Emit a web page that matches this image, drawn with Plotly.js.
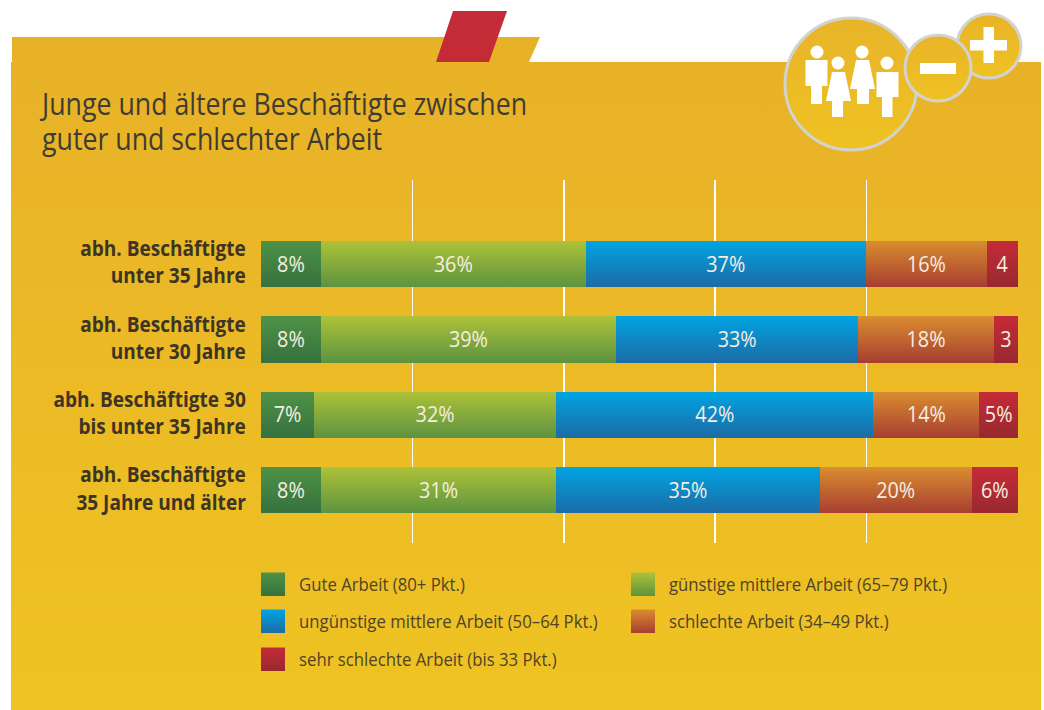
<!DOCTYPE html>
<html><head><meta charset="utf-8">
<script src="https://cdn.plot.ly/plotly-3.0.1.min.js"></script>
<style>html,body{margin:0;padding:0;background:#fff;overflow:hidden}</style></head>
<body><div id="chart" style="width:1044px;height:710px"></div>
<script>
const FONT = '"Open Sans",sans-serif';
const categories = ['abh. Beschäftigte<br>unter 35 Jahre','abh. Beschäftigte<br>unter 30 Jahre','abh. Beschäftigte 30<br>bis unter 35 Jahre','abh. Beschäftigte<br>35 Jahre und älter'];
const seriesNames = ['Gute Arbeit (80+ Pkt.)','günstige mittlere Arbeit (65–79 Pkt.)','ungünstige mittlere Arbeit (50–64 Pkt.)','schlechte Arbeit (34–49 Pkt.)','sehr schlechte Arbeit (bis 33 Pkt.)'];
const gute = [7.9,7.9,7.0,7.9];
const guenstig = [35.0,39.0,32.0,31.1];
const unguenstig = [37.0,32.0,41.9,34.8];
const schlecht = [16.0,17.9,14.0,20.1];
const sehrSchlecht = [4.09,3.19,5.09,6.09];
const guteLabels = ['8%','8%','7%','8%'];
const guenstigLabels = ['36%','39%','32%','31%'];
const unguenstigLabels = ['37%','33%','42%','35%'];
const schlechtLabels = ['16%','18%','14%','20%'];
const sehrSchlechtLabels = ['4','3','5%','6%'];
const gradients = {
  g0:['#4F9246','#36713F'], g1:['#AEC238','#5C9340'], g2:['#00A4E2','#1C6BA6'],
  g3:['#DA8D30','#A63E30'], g4:['#C52B38','#98292F'],
  bg:['#E8B228','#EFC323'], circ:['#E8B429','#EFC223']
};
const W=757,H=363,L=261,T=180;
const px=x=>(x-L)/W, py=y=>1-(y-T)/H;
const poly=(pts,fill,name)=>({type:'path',xref:'paper',yref:'paper',layer:'below',name:name||'',
  path:'M'+pts.map(p=>px(p[0])+','+py(p[1])).join('L')+'Z',fillcolor:fill,line:{width:0}});
const circle=(cx,cy,r,fill,name,lc)=>({type:'circle',xref:'paper',yref:'paper',layer:'below',name:name||'',
  x0:px(cx-r),x1:px(cx+r),y0:py(cy+r),y1:py(cy-r),fillcolor:fill,line:{width:lc?3:0,color:lc||'rgba(0,0,0,0)'}});
const rect=(x0,y0,x1,y1,fill,name)=>poly([[x0,y0],[x1,y0],[x1,y1],[x0,y1]],fill,name);
const WH='#ffffff', GR='#d2d2cf';
const shapes=[
  rect(11,62,1041,710,'#EBB925','bg'),
  poly([[12,37],[540,37],[529,62],[12,62]],'#E8B228'),
  poly([[453,11],[507,11],[489,62],[436,62]],'#C42B36'),
  circle(989,46,32,'#EBBA27','circ',GR),
  circle(851,84,66,'#EBBA27','circ',GR),
  circle(938,68,33,'#EBBA27','circ',GR),
  rect(970,40,1007,50.5,WH), rect(983.5,27,994,63,WH),
  rect(920,63,956,74,WH),
  circle(817,52,6.5,WH), rect(805.5,60,827.5,86,WH), rect(811,86,822,104,WH),
  circle(838,63,6.5,WH), poly([[832,72],[845,72],[851,101],[826,101]],WH), rect(832,101,843,117,WH),
  circle(862,52,6.5,WH), poly([[856,60],[869,60],[875,89],[850,89]],WH), rect(857,89,869,104,WH),
  circle(887,63,6.5,WH), rect(876.5,72,898.5,97,WH), rect(882,97,892.5,117,WH)
];
const legendPos=[[261,584],[631,584],[261,621],[631,621],[261,659]];
const annotations=[];
seriesNames.forEach((n,i)=>{
  const [x,y]=legendPos[i];
  shapes.push(rect(x,y-11.5,x+24,y+12,gradients['g'+i][0],'g'+i));
  annotations.push({xref:'paper',yref:'paper',x:px(x+36),y:py(y),text:n,showarrow:false,xanchor:'left',yanchor:'middle',
    font:{family:FONT,size:18,color:'#4F4427'}});
});
const vals=[gute,guenstig,unguenstig,schlecht,sehrSchlecht];
const labs=[guteLabels,guenstigLabels,unguenstigLabels,schlechtLabels,sehrSchlechtLabels];
const data=vals.map((v,i)=>({type:'bar',orientation:'h',name:seriesNames[i],y:categories,x:v,text:labs[i],
  textposition:'inside',insidetextanchor:'middle',textangle:0,constraintext:'none',cliponaxis:false,
  insidetextfont:{family:FONT,size:22,color:'#F6EEE2'},marker:{color:gradients['g'+i][0],line:{width:0}},hoverinfo:'skip'}));
const layout={
  width:1044,height:710,margin:{l:L,r:1044-L-W,t:T,b:710-T-H,pad:0},
  paper_bgcolor:'#ffffff',plot_bgcolor:'rgba(0,0,0,0)',barmode:'stack',bargap:0.383,showlegend:false,
  title:{text:'Junge und ältere Beschäftigte zwischen<br>guter und schlechter Arbeit',x:42/1044,xanchor:'left',xref:'container',
    y:1-111/710,yanchor:'middle',yref:'container',font:{family:FONT,size:31,color:'#3E3C33'}},
  xaxis:{range:[0,100],tickvals:[20,40,60,80],showticklabels:false,ticks:'',showgrid:true,gridcolor:'#ffffff',gridwidth:1.5,zeroline:false,showline:false},
  yaxis:{type:'category',categoryorder:'array',categoryarray:categories,range:[3.7,-1.114],showgrid:false,zeroline:false,showline:false,
    ticks:'outside',ticklen:10,tickcolor:'rgba(0,0,0,0)',tickfont:{family:FONT,size:21,color:'#3E3424',weight:700}},
  shapes,annotations
};
function squeeze(sel,f){
  document.querySelectorAll(sel).forEach(t=>{
    const lines=t.querySelectorAll('tspan.line');
    (lines.length?lines:[t]).forEach(el=>{
      const len=el.getComputedTextLength();
      if(len>0){el.setAttribute('textLength',(len*f).toFixed(1));el.setAttribute('lengthAdjust','spacingAndGlyphs');}
    });
  });
}
function nudge(sel,dy){
  document.querySelectorAll(sel).forEach(t=>{
    const lines=t.querySelectorAll('tspan.line');
    (lines.length?lines:[t]).forEach(el=>{
      el.setAttribute('y',parseFloat(el.getAttribute('y')||0)+dy);
    });
  });
}
const gd=document.getElementById('chart');
Plotly.newPlot(gd,data,layout,{staticPlot:true,displayModeBar:false}).then(()=>{
  const svg=gd.querySelector('svg.main-svg');
  const NS='http://www.w3.org/2000/svg';
  const defs=document.createElementNS(NS,'defs');
  Object.entries(gradients).forEach(([id,c])=>{
    const g=document.createElementNS(NS,'linearGradient');
    g.setAttribute('id','grad-'+id);g.setAttribute('x1','0');g.setAttribute('y1','0');g.setAttribute('x2','0');g.setAttribute('y2','1');
    c.forEach((col,k)=>{const s=document.createElementNS(NS,'stop');s.setAttribute('offset',k);s.setAttribute('stop-color',col);g.appendChild(s);});
    defs.appendChild(g);
  });
  svg.insertBefore(defs,svg.firstChild);
  gd.querySelectorAll('.shapelayer path').forEach(p=>{
    const sh=layout.shapes[+p.getAttribute('data-index')];
    if(sh&&gradients[sh.name]) p.style.fill='url(#grad-'+sh.name+')';
  });
  gd.querySelectorAll('.trace.bars').forEach((t,i)=>{
    t.querySelectorAll('.point path').forEach(p=>{p.style.fill='url(#grad-g'+i+')';});
  });
  // condensed look: the source uses a narrow face, none is installed
  squeeze('#chart .gtitle',0.862);
  squeeze('#chart .ytick text',0.907);
  squeeze('#chart .bartext',0.9);
  // legend labels: anchor at their left edge, so that narrowing keeps that edge
  gd.querySelectorAll('.annotation-text').forEach(t=>{
    const len=t.getComputedTextLength(), cx=parseFloat(t.getAttribute('x'));
    t.style.textAnchor='start';
    t.setAttribute('x',cx-len/2);
    t.setAttribute('textLength',(len*0.93).toFixed(1));
    t.setAttribute('lengthAdjust','spacingAndGlyphs');
  });
  // title: tighter leading
  const tl=gd.querySelectorAll('.gtitle tspan.line');
  if(tl.length===2){
    tl[0].setAttribute('y',parseFloat(tl[0].getAttribute('y'))+3.5);
    tl[1].setAttribute('y',parseFloat(tl[1].getAttribute('y'))-1);
  }
  nudge('#chart .ytick text',-1.5);
  nudge('#chart .bartext',-1.5);
});
</script></body></html>
